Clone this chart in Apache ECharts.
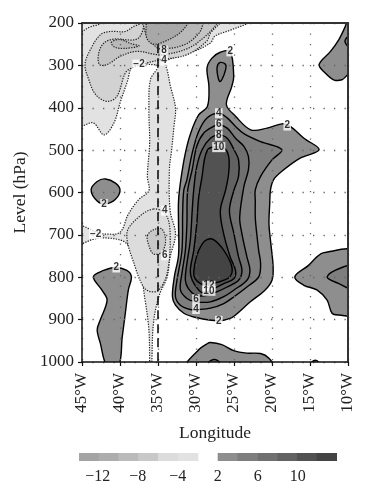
<!DOCTYPE html>
<html>
<head>
<meta charset="utf-8">
<style>
  html, body { margin: 0; padding: 0; background: #fff; }
  #chart { width: 373px; height: 500px; }
</style>
<script src="https://cdn.jsdelivr.net/npm/echarts@6/dist/echarts.min.js"></script>
</head>
<body>
<div id="chart"></div>
<script>
// tick labels
const lonTicks = [-45, -40, -35, -30, -25, -20, -15, -10];
const levelTicks = [200, 300, 400, 500, 600, 700, 800, 900, 1000];

// colour scale, as shown in the bar under the chart
const negLegend = ['#a4a4a4', '#adadad', '#bbbbbb', '#c8c8c8', '#dcdcdc', '#e2e2e2'];
const posLegend = ['#8e8e8e', '#7e7e7e', '#707070', '#626262', '#525252', '#444444'];
const negLegendLabels = ['\u221212', '\u22128', '\u22124'];
const posLegendLabels = ['2', '6', '10'];

// band fills inside the plot, the top left looks a touch darker than the bar
const negBands = ['#e2e2e2', '#d2d2d2', '#c4c4c4', '#b8b8b8', '#a8a8a8'];

// contours as [longitude, level]
const cornerHole = [[-46, 227], [-45, 220], [-43.9, 209], [-42.6, 202], [-41.8, 190], [-46, 190]];
const minus2 = [[-22, 190], [-23, 200], [-25.5, 217], [-27.5, 231], [-28.1, 247], [-30.3, 267], [-33.4, 285], [-34.1, 294],
  [-33.8, 310], [-33.4, 346], [-32.7, 401], [-32.9, 444], [-33.2, 499], [-33.5, 546], [-33.4, 643], [-32.7, 698],
  [-33.4, 752], [-33.8, 799], [-34.9, 846], [-35.6, 909], [-35.8, 995], [-35.8, 1010], [-36.1, 1010], [-36.1, 995],
  [-36.2, 924], [-36.7, 854], [-37.5, 776], [-39.1, 721], [-40.8, 709], [-43.2, 709], [-45, 721], [-46, 728],
  [-46, 672], [-45, 678], [-43, 694], [-41.9, 698], [-40, 694], [-38.9, 651], [-37.5, 616], [-36.2, 596],
  [-36.4, 562], [-36.1, 483], [-36.2, 405], [-36, 334], [-35, 302], [-36, 298], [-38.2, 298], [-39.1, 342],
  [-40, 389], [-40.8, 436], [-42.1, 464], [-43.5, 436], [-45, 443], [-46, 445], [-46, 190]];
const minus4Top = [[-36.8, 190], [-37.1, 200], [-38.2, 208], [-39.3, 220], [-41.3, 220], [-42.6, 228], [-43.9, 263], [-44.6, 298],
  [-44.1, 334], [-43.2, 369], [-41.7, 385], [-40.4, 373], [-39.3, 318], [-38.4, 306], [-36.4, 294], [-34.7, 287],
  [-31.2, 275], [-28.6, 243], [-28.1, 224], [-26.8, 200], [-26.2, 190]];
const minus6Top = [[-37.2, 190], [-36.9, 210], [-37.8, 238], [-40.8, 238], [-42.1, 247], [-42.8, 271], [-42.7, 298], [-41.7, 298],
  [-40, 279], [-37.8, 267], [-34.7, 275], [-31.2, 261], [-29, 235], [-27.7, 212], [-27.2, 200], [-26.9, 190]];
const minus8Eye = [[-41.15, 246], [-40.06, 239], [-38.5, 249], [-37.5, 254], [-39.4, 260], [-40.7, 257]];
const minus8Top = [[-36.7, 190], [-36.5, 231], [-35.6, 251], [-34.7, 261], [-31.5, 251], [-29.6, 224], [-29, 200], [-28.7, 190]];
const minus10Top = [[-36.6, 190], [-36.55, 200], [-36.5, 235], [-35.6, 250], [-33.8, 241], [-32.1, 223], [-31, 200], [-30.7, 190]];
const minus4Tongue = [[-35.6, 639], [-37.8, 662], [-39.1, 698], [-38, 776], [-36.9, 823], [-36, 834], [-34.9, 830], [-33.8, 791], [-33.4, 698], [-34, 651]];
const minus6Tongue = [[-36.4, 702], [-35.6, 688], [-34.5, 686], [-34, 713], [-34.5, 741], [-35.6, 745], [-36.2, 725]];

const plus2Main = [[-25.5, 267], [-25.04, 326], [-25.3, 350], [-26, 393], [-24.8, 420], [-22.8, 452], [-20.65, 448], [-18.7, 438],
  [-17.6, 444], [-15.8, 472], [-13.8, 499], [-16.3, 519], [-18.7, 550], [-19.8, 570], [-20.2, 594], [-20.3, 627],
  [-20.4, 674], [-20.2, 713], [-19.85, 776], [-20, 807], [-20.9, 830], [-22.85, 858], [-24.8, 889], [-25.5, 897],
  [-27, 903], [-30, 895], [-31.6, 885], [-32.7, 866], [-33.1, 846], [-32.85, 799], [-32.3, 748], [-32.3, 674],
  [-32.3, 620], [-32, 570], [-31.4, 507], [-30.7, 460], [-29.65, 417], [-28.5, 397], [-28.3, 350], [-28.55, 306],
  [-27.9, 283], [-26.8, 269]];
const plus4Eye = [[-27.2, 302], [-26.8, 293], [-26.1, 298], [-26.1, 310], [-26.6, 334], [-26.9, 338], [-27.2, 318]];
const plus4Main = [[-27, 413], [-25.9, 424], [-24.8, 444], [-23.7, 461], [-21.5, 480], [-18.7, 499], [-20, 523], [-21.5, 562],
  [-22.2, 594], [-22.2, 620], [-22.2, 659], [-22, 698], [-21.75, 737], [-21.5, 768], [-21.75, 799], [-23.3, 823],
  [-25, 846], [-26.35, 862], [-28.1, 873], [-29.65, 876], [-30.75, 876], [-32.05, 866], [-32.7, 846], [-32.5, 807],
  [-31.85, 737], [-31.75, 643], [-31.6, 594], [-31.2, 570], [-30.5, 507], [-29.65, 456], [-28.55, 424]];
const plus6Main = [[-27, 440], [-25.9, 448], [-24.8, 472], [-23.7, 491], [-23.1, 515], [-23.1, 546], [-23.7, 586], [-24.25, 659],
  [-23.95, 698], [-23.3, 752], [-22.9, 784], [-23.3, 807], [-25, 830], [-26.35, 846], [-28.1, 858], [-30, 858],
  [-31.2, 850], [-32.05, 830], [-31.85, 791], [-31.4, 737], [-31.2, 674], [-31.1, 596], [-30.5, 546], [-29.9, 491],
  [-29, 460], [-27.7, 444]];
const plus8Main = [[-27, 464], [-25.9, 472], [-25, 499], [-24.4, 523], [-24.4, 562], [-25, 594], [-25.6, 643], [-25, 698],
  [-24.4, 752], [-23.95, 784], [-24.4, 807], [-25.9, 823], [-27.2, 834], [-28.1, 840], [-29, 844], [-30.1, 842],
  [-31, 827], [-31.4, 807], [-31.2, 768], [-30.75, 713], [-30.5, 643], [-30.3, 594], [-29.9, 539], [-29.2, 499], [-28.1, 472]];
const plus10Main = [[-26.35, 495], [-25.7, 515], [-25.7, 554], [-26.1, 594], [-26.8, 643], [-26.35, 698], [-25.5, 752], [-24.8, 784],
  [-25, 803], [-26.35, 815], [-27.7, 827], [-29, 837], [-29.65, 830], [-30.5, 807], [-30.75, 784], [-30.3, 737],
  [-29.9, 674], [-29.65, 612], [-29.2, 562], [-28.8, 515], [-28.2, 495]];
const plus12Main = [[-28.57, 711], [-27.7, 711], [-26.4, 735], [-25.3, 774], [-25.5, 798], [-26.8, 810], [-29, 817], [-30.1, 804],
  [-30.3, 788], [-29.9, 749], [-29.2, 722]];

const plus2LowerLeft = [[-43.5, 799], [-42.15, 784], [-40.6, 777], [-39.1, 784], [-38.5, 799], [-38.9, 830], [-39.3, 885], [-39.7, 940],
  [-40.2, 1010], [-41.7, 1010], [-42.6, 955], [-43, 924], [-42.6, 901], [-41.7, 854], [-42.4, 830]];
const plus2Small = [[-43.8, 594], [-43, 574], [-41.9, 568], [-40.6, 578], [-40, 594], [-40.6, 616], [-41.9, 627], [-43, 620]];
const plus2Bottom = [[-31.2, 1010], [-29.65, 971], [-28.55, 957], [-28.1, 954], [-26.6, 959], [-25.05, 973], [-23.3, 979], [-21.5, 980], [-20.4, 991], [-19.9, 1010]];
const plus4Bottom = [[-28.8, 1010], [-28, 996], [-27.2, 996], [-26.6, 1010]];
const plus2Tiny = [[-15.2, 1010], [-14.3, 996], [-13.5, 1010]];
const plus2Right = [[-9, 741], [-13.2, 742], [-14.1, 752], [-15.2, 772], [-17, 799], [-15.8, 819], [-14.1, 830], [-12.75, 854], [-12.1, 885], [-11.2, 889], [-9, 887]];
const plus4Right = [[-9, 774], [-10.8, 777], [-12.75, 799], [-11.2, 815], [-9, 829]];
const plus2TopRight = [[-10, 190], [-10.35, 208], [-11.2, 239], [-12.3, 267], [-13.8, 298], [-13, 318], [-11.9, 334], [-10.8, 334], [-10, 322], [-9, 315], [-9, 190]];
const plus4TopRight = [[-9, 222], [-10.4, 243], [-9, 268]];

// contour labels
const labelLon = [-25.5, -18, -27, -27, -27, -27, -42.1, -43.2, -37.5, -34.2, -34.2, -34.1, -34.1, -40.5, -28.3, -28.3, -30, -30, -27];
const labelLevel = [267, 442, 413, 440, 466, 493, 627, 698, 298, 265, 289, 643, 748, 777, 820, 832, 852, 875, 903];
const labelText = ['2', '2', '4', '6', '8', '10', '2', '\u22122', '\u22122', '8', '4', '4', '6', '2', '12', '10', '6', '4', '2'];

// the dashed line at 35W
const dashLon = [-35, -35];
const dashLevel = [250, 1000];

// draw order: outer bands first
const contours = [
  { pts: minus2, fill: negBands[0], dotted: true },
  { pts: cornerHole, fill: '#eaeaea', dotted: true },
  { pts: minus4Top, fill: negBands[1], dotted: true },
  { pts: minus6Top, fill: negBands[2], dotted: true },
  { pts: minus8Eye, fill: negBands[3], dotted: true },
  { pts: minus8Top, fill: negBands[3], dotted: true },
  { pts: minus10Top, fill: negBands[4], dotted: true },
  { pts: minus4Tongue, fill: negLegend[4], dotted: true },
  { pts: minus6Tongue, fill: negLegend[3], dotted: true },
  { pts: plus2Main, fill: posLegend[0] },
  { pts: plus4Eye, fill: posLegend[1] },
  { pts: plus4Main, fill: posLegend[1] },
  { pts: plus6Main, fill: posLegend[2] },
  { pts: plus8Main, fill: posLegend[3] },
  { pts: plus10Main, fill: posLegend[4] },
  { pts: plus12Main, fill: posLegend[5] },
  { pts: plus2LowerLeft, fill: posLegend[0] },
  { pts: plus2Small, fill: posLegend[0] },
  { pts: plus2Bottom, fill: posLegend[0] },
  { pts: plus4Bottom, fill: posLegend[1] },
  { pts: plus2Tiny, fill: posLegend[0] },
  { pts: plus2Right, fill: posLegend[0] },
  { pts: plus4Right, fill: posLegend[1] },
  { pts: plus2TopRight, fill: posLegend[0] },
  { pts: plus4TopRight, fill: posLegend[1] }
];

const serif = '"Liberation Serif", serif';
const chart = echarts.init(document.getElementById('chart'), null, { renderer: 'canvas' });

function renderContour(params, api) {
  const c = contours[params.dataIndex];
  return {
    type: 'polygon',
    shape: { points: c.pts.map(p => api.coord(p)), smooth: 0.35 },
    style: {
      fill: c.fill,
      stroke: c.dotted ? '#222' : '#000',
      lineWidth: c.dotted ? 1.2 : 1.4,
      lineDash: c.dotted ? [1.3, 1.3] : null
    }
  };
}

// colour bar under the chart
function legendGraphic() {
  const elements = [];
  const cellW = 19.8, barY = 453, barH = 8, negX = 79, posX = 217.7, labelY = 477;
  negLegend.forEach((color, i) => {
    elements.push({ type: 'rect', shape: { x: negX + i * cellW, y: barY, width: cellW + 0.5, height: barH }, style: { fill: color } });
  });
  posLegend.forEach((color, i) => {
    elements.push({ type: 'rect', shape: { x: posX + i * cellW, y: barY, width: cellW + 0.5, height: barH }, style: { fill: color } });
  });
  const addText = (text, x) => elements.push({
    type: 'text', x: x, y: labelY,
    style: { text: text, fill: '#222', font: '16px ' + serif, textAlign: 'center', textVerticalAlign: 'middle' }
  });
  negLegendLabels.forEach((t, i) => addText(t, 97.7 + i * 40));
  posLegendLabels.forEach((t, i) => addText(t, posX + i * 40));
  return elements;
}

chart.setOption({
  animation: false,
  backgroundColor: '#fff',
  grid: { left: 82, top: 23, width: 266, height: 339 },
  xAxis: [{
    type: 'value', min: lonTicks[0], max: lonTicks[lonTicks.length - 1], interval: 5, z: 3,
    name: 'Longitude', nameLocation: 'center', nameGap: 62,
    nameTextStyle: { fontFamily: serif, fontSize: 17.5, color: '#222' },
    axisLine: { onZero: false, lineStyle: { color: '#111', width: 1.5 } },
    axisTick: { length: 4, lineStyle: { color: '#111', width: 1.2 } },
    axisLabel: {
      rotate: 90, margin: 11, fontFamily: serif, fontSize: 17, color: '#222',
      formatter: v => Math.abs(v) + '\u00b0W'
    },
    splitLine: { show: true, lineStyle: { color: '#666', width: 1.3, type: [1.3, 9.2] } }
  }, {
    type: 'value', position: 'top', min: lonTicks[0], max: lonTicks[lonTicks.length - 1], interval: 5, z: 3,
    axisLine: { onZero: false, lineStyle: { color: '#333', width: 2 } },
    axisTick: { show: false }, axisLabel: { show: false }, splitLine: { show: false }
  }],
  yAxis: [{
    type: 'value', inverse: true, min: levelTicks[0], max: levelTicks[levelTicks.length - 1], interval: 100, z: 3,
    name: 'Level (hPa)', nameLocation: 'center', nameGap: 52,
    nameTextStyle: { fontFamily: serif, fontSize: 17.5, color: '#222' },
    axisLine: { onZero: false, lineStyle: { color: '#111', width: 1.5 } },
    axisTick: { length: 4, lineStyle: { color: '#111', width: 1.2 } },
    axisLabel: { margin: 8, fontFamily: serif, fontSize: 17, color: '#222', formatter: v => String(v) },
    splitLine: { show: true, lineStyle: { color: '#666', width: 1.3, type: [1.3, 9.2] } }
  }, {
    type: 'value', position: 'right', inverse: true, min: levelTicks[0], max: levelTicks[levelTicks.length - 1], interval: 100, z: 3,
    axisLine: { onZero: false, lineStyle: { color: '#333', width: 2 } },
    axisTick: { show: false }, axisLabel: { show: false }, splitLine: { show: false }
  }],
  series: [{
    type: 'custom', z: 2, clip: true, silent: true,
    renderItem: renderContour,
    data: contours.map(c => c.pts[0])
  }, {
    type: 'line', z: 5, silent: true, symbol: 'none',
    lineStyle: { color: '#000', width: 1.5, type: [9, 5] },
    data: dashLon.map((lon, i) => [lon, dashLevel[i]])
  }, {
    type: 'scatter', z: 8, silent: true, symbolSize: 0,
    label: {
      show: true, position: 'inside', color: '#000', fontFamily: '"Liberation Sans", sans-serif',
      fontSize: 10, fontWeight: 'bold', backgroundColor: '#fff', padding: [0, 1, 0, 1],
      formatter: p => p.value[2]
    },
    data: labelLon.map((lon, i) => [lon, labelLevel[i], labelText[i]])
  }],
  graphic: legendGraphic()
});
</script>
</body>
</html>
